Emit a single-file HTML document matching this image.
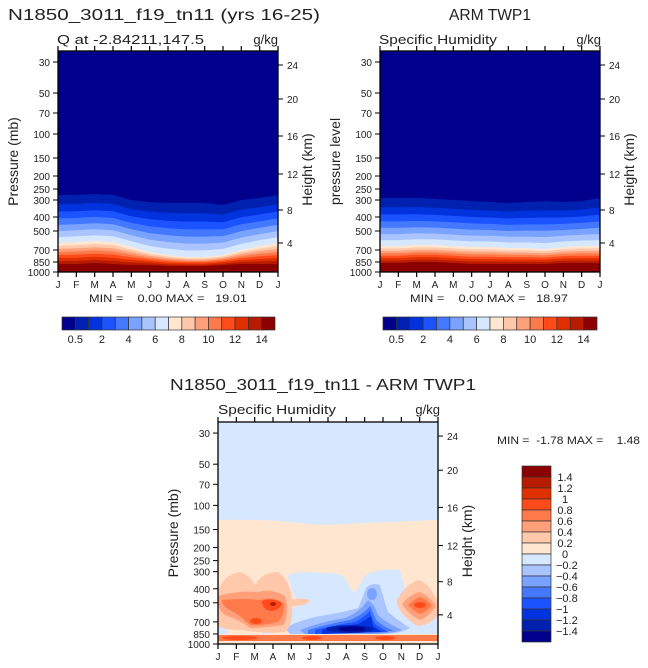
<!DOCTYPE html>
<html><head><meta charset="utf-8">
<style>
html,body{margin:0;padding:0;background:#fff;}
svg{display:block;font-family:"Liberation Sans",sans-serif;}
text{white-space:pre;}
</style></head>
<body>
<svg id="s" width="648" height="668" viewBox="0 0 648 668" xmlns="http://www.w3.org/2000/svg">
<defs>
<clipPath id="c1"><rect x="58" y="51" width="220" height="221"/></clipPath>
<clipPath id="c2"><rect x="380" y="51" width="220" height="221"/></clipPath>
<clipPath id="c3"><rect x="218" y="422" width="220" height="222"/></clipPath>
</defs>
<g id="g1" clip-path="url(#c1)"></g>
<g id="g2" clip-path="url(#c2)"></g>
<g id="g3" clip-path="url(#c3)">
<rect x="218" y="422" width="220" height="222" fill="#d5e8ff"/>
<path d="M218 520 Q260 519 290 522 Q320 526 345 524 Q390 522 438 520 L438 644 L218 644Z" fill="#ffe6d0"/>
<!-- light blue area -->
<path d="M288 575 Q300 570 320 573 Q340 572 345 578 Q350 590 355 592 Q360 585 365 575 Q380 568 400 570 Q405 590 410 600 Q430 608 438 612 L438 634 L290 634 Q280 625 288 610 Q300 606 296 598 Q290 590 288 575Z" fill="#d5e8ff"/>
<rect x="218" y="626" width="10" height="8" fill="#d5e8ff"/>
<path d="M262 628 Q280 625 300 630 L262 634Z" fill="#d5e8ff"/>
<!-- blues -->
<path d="M285 628 Q300 620 320 616 Q345 612 358 608 Q364 595 366 588 Q372 582 380 585 Q384 600 388 612 Q400 622 410 628 Q400 634 380 634 L290 634Z" fill="#aac4ff"/>
<ellipse cx="372" cy="594" rx="5" ry="6" fill="#7aa2ff"/>
<path d="M300 630 Q320 622 345 618 Q360 612 368 600 Q375 605 378 615 Q388 624 402 630 Q390 634 370 634 L305 634Z" fill="#7aa2ff"/>
<path d="M308 630 Q328 624 350 620 Q364 614 370 606 Q374 614 376 620 Q384 627 394 631 L308 634Z" fill="#4478ff"/>
<path d="M315 630 Q335 625 355 622 Q366 616 370 611 Q372 620 376 625 Q382 629 388 632 L315 634Z" fill="#1a53ff"/>
<path d="M322 630 Q342 626 358 624 Q368 619 371 616 L373 626 Q378 630 382 632 L322 634Z" fill="#0033dd"/>
<ellipse cx="350" cy="629" rx="24" ry="3.8" fill="#0020b0"/>
<ellipse cx="352" cy="629" rx="14" ry="2.6" fill="#00008c"/>
<!-- left red -->
<path d="M218 590 Q225 574 240 572 Q250 575 255 585 Q262 572 278 572 Q290 580 292 600 Q294 625 285 632 Q265 634 240 630 Q225 630 218 626Z" fill="#ffc8aa"/>
<path d="M218 596 Q240 590 258 592 Q272 588 285 596 Q290 610 284 625 Q265 628 250 628 Q240 620 225 615 Q218 610 218 600Z" fill="#ffa07a"/>
<path d="M222 600 Q245 598 260 600 Q275 596 284 604 Q285 615 278 622 Q262 626 250 625 Q240 615 230 610 Q222 606 222 600Z" fill="#ff7a4a"/>
<path d="M262 601 Q272 597 282 603 Q280 610 272 611 Q262 610 262 601Z" fill="#ff4a1a"/>
<ellipse cx="256" cy="621" rx="6" ry="3" fill="#ff4a1a"/>
<ellipse cx="273" cy="604" rx="3" ry="2" fill="#b81c00"/>
<path d="M292 600 Q300 597 310 600 Q308 606 292 606Z" fill="#ffc8aa"/>
<!-- right red -->
<path d="M397 600 Q405 585 418 580 Q428 582 434 595 Q440 600 438 615 Q430 625 418 626 Q405 620 397 605Z" fill="#ffc8aa"/>
<path d="M402 604 Q410 594 420 592 Q432 598 436 606 Q430 616 420 620 Q408 614 402 604Z" fill="#ffa07a"/>
<path d="M408 605 Q415 598 421 597 Q430 602 432 606 Q426 612 420 614 Q412 610 408 605Z" fill="#ff7a4a"/>
<ellipse cx="420" cy="605" rx="6" ry="3" fill="#ff4a1a"/>
<!-- bottom strip -->
<rect x="218" y="635" width="220" height="7" fill="#ff7a4a"/>
<rect x="218" y="641" width="220" height="3" fill="#ffe6d0"/>
<ellipse cx="312" cy="638" rx="10" ry="2" fill="#ff4a1a"/>
<ellipse cx="385" cy="638" rx="10" ry="2" fill="#ff4a1a"/>
<ellipse cx="240" cy="638" rx="18" ry="2" fill="#ff4a1a"/>
</g>
</svg>
<script>
const C=["#00008c","#0020b0","#0033dd","#1a53ff","#4478ff","#7aa2ff","#aac4ff","#d5e8ff","#ffe6d0","#ffc8aa","#ffa07a","#ff7a4a","#ff4a1a","#e03000","#b81c00","#8b0000"];
const NS="http://www.w3.org/2000/svg";
const s=document.getElementById('s');
function el(t,a,p){const e=document.createElementNS(NS,t);for(const k in a)e.setAttribute(k,a[k]);(p||s).appendChild(e);return e;}
function txt(x,y,t,sz,anc,extra){const e=el('text',Object.assign({x:x,y:y,'font-size':sz,'text-anchor':anc||'start',fill:'#222'},extra||{}));e.textContent=t;return e;}
const P=[[30,62],[50,93],[70,113],[100,134],[150,158],[200,176],[250,189],[300,200],[400,217],[500,231],[700,250],[850,262],[1000,272]];
const H=[[24,65],[20,99],[16,136],[12,174],[8,210],[4,243]];
const M="JFMAMJJASONDJ";
function fill(g,x0,top,mid,bot){
  const gg=document.getElementById(g);
  el('rect',{x:x0,y:51,width:220,height:221,fill:C[0]},gg);
  for(let k=1;k<16;k++){
    let pts=[];
    for(let i=0;i<=12;i++){
      let y;
      if(k<=8){y=top[i]+(mid[i]-top[i])*Math.pow((k-1)/7,0.85);}
      else{y=mid[i]+(bot[i]-mid[i])*(k-8)/7;}
      pts.push((x0+i*220/12).toFixed(1)+','+y.toFixed(1));
    }
    el('polygon',{points:pts.join(' ')+' '+(x0+220)+',275 '+x0+',275',fill:C[k]},gg);
  }
}
fill('g1',58,[195,195,194,195,200,202,203,203,203,205,200,198,195],[243,242,241,242,247,252,255,257,257,255,250,246,243],[264,264,263,264,265,265,266,266,266,265,264,264,264]);
fill('g2',380,[198,198,198,199,200,201,202,203,202,201,202,201,198],[246,246,245,245,246,247,247,248,248,249,247,246,246],[263,263,262,262,263,264,264,264,264,264,263,263,263]);
function axes(x0,y0,y1,yl){
  const w=220;
  el('rect',{x:x0,y:y0,width:w,height:y1-y0,fill:'none',stroke:'#000','stroke-width':1.3});
  for(let i=0;i<=12;i++){const x=x0+i*w/12;
    el('line',{x1:x,y1:y0,x2:x,y2:y0-5,stroke:'#000','stroke-width':1.2});
    el('line',{x1:x,y1:y1,x2:x,y2:y1+5,stroke:'#000','stroke-width':1.2});
    txt(x,y1+16,M[i],10,'middle');}
  const dy=y0-51, sc=(y1-y0)/221;
  P.forEach(p=>{const y=y0+(p[1]-51)*sc;
    el('line',{x1:x0,y1:y,x2:x0-5,y2:y,stroke:'#000'});txt(x0-8,y+4,p[0],10,'end');});
  H.forEach(h=>{const y=y0+(h[1]-51)*sc;
    el('line',{x1:x0+w,y1:y,x2:x0+w+5,y2:y,stroke:'#000'});txt(x0+w+9,y+4,h[0],10,'start');});
  txt(x0-40,(y0+y1)/2,yl,14,'middle',{transform:'rotate(-90 '+(x0-40)+' '+((y0+y1)/2)+')'});
  txt(x0+w+34,(y0+y1)/2+8,'Height (km)',14,'middle',{transform:'rotate(-90 '+(x0+w+34)+' '+((y0+y1)/2+8)+')'});
}
axes(58,51,272,'Pressure (mb)');
axes(380,51,272,'pressure level');
axes(218,422,644,'Pressure (mb)');
txt(164,20,'N1850_3011_f19_tn11 (yrs 16-25)',16,'middle',{textLength:312,lengthAdjust:'spacingAndGlyphs'});
txt(490,20,'ARM TWP1',16,'middle',{textLength:82,lengthAdjust:'spacingAndGlyphs'});
txt(323,390,'N1850_3011_f19_tn11 - ARM TWP1',16,'middle',{textLength:306,lengthAdjust:'spacingAndGlyphs'});
txt(57,44,'Q at -2.84211,147.5',13,'start',{textLength:147,lengthAdjust:'spacingAndGlyphs'});
txt(278,44,'g/kg',13,'end');
txt(379,44,'Specific Humidity',13,'start',{textLength:118,lengthAdjust:'spacingAndGlyphs'});
txt(601,44,'g/kg',13,'end');
txt(218,414,'Specific Humidity',13,'start',{textLength:118,lengthAdjust:'spacingAndGlyphs'});
txt(440,414,'g/kg',13,'end');
txt(89,302,'MIN =    0.00 MAX =   19.01',11,'start',{textLength:158,lengthAdjust:'spacingAndGlyphs'});
txt(410,302,'MIN =    0.00 MAX =   18.97',11,'start',{textLength:158,lengthAdjust:'spacingAndGlyphs'});
txt(497,444,'MIN =  -1.78 MAX =    1.48',11,'start',{textLength:143,lengthAdjust:'spacingAndGlyphs'});
function hbar(x0,x1){const w=(x1-x0)/16;
  for(let k=0;k<16;k++)el('rect',{x:x0+k*w,y:317,width:w,height:13,fill:C[k],stroke:'#333','stroke-width':0.7});
  const L=['0.5','2','4','6','8','10','12','14'];
  L.forEach((l,i)=>txt(x0+(1+2*i)*w,343,l,11,'middle'));}
hbar(62,275);hbar(383,597);
const vl=['1.4','1.2','1','0.8','0.6','0.4','0.2','0','\u22120.2','\u22120.4','\u22120.6','\u22120.8','\u22121','\u22121.2','\u22121.4'];
for(let k=0;k<16;k++){el('rect',{x:522,y:466+k*11,width:29,height:11,fill:C[15-k],stroke:'#333','stroke-width':0.7});}
vl.forEach((l,i)=>txt(l.startsWith('\u2212')?556:565,481+i*11,l,11,l.startsWith('\u2212')?'start':'middle'));
</script>
</body></html>
